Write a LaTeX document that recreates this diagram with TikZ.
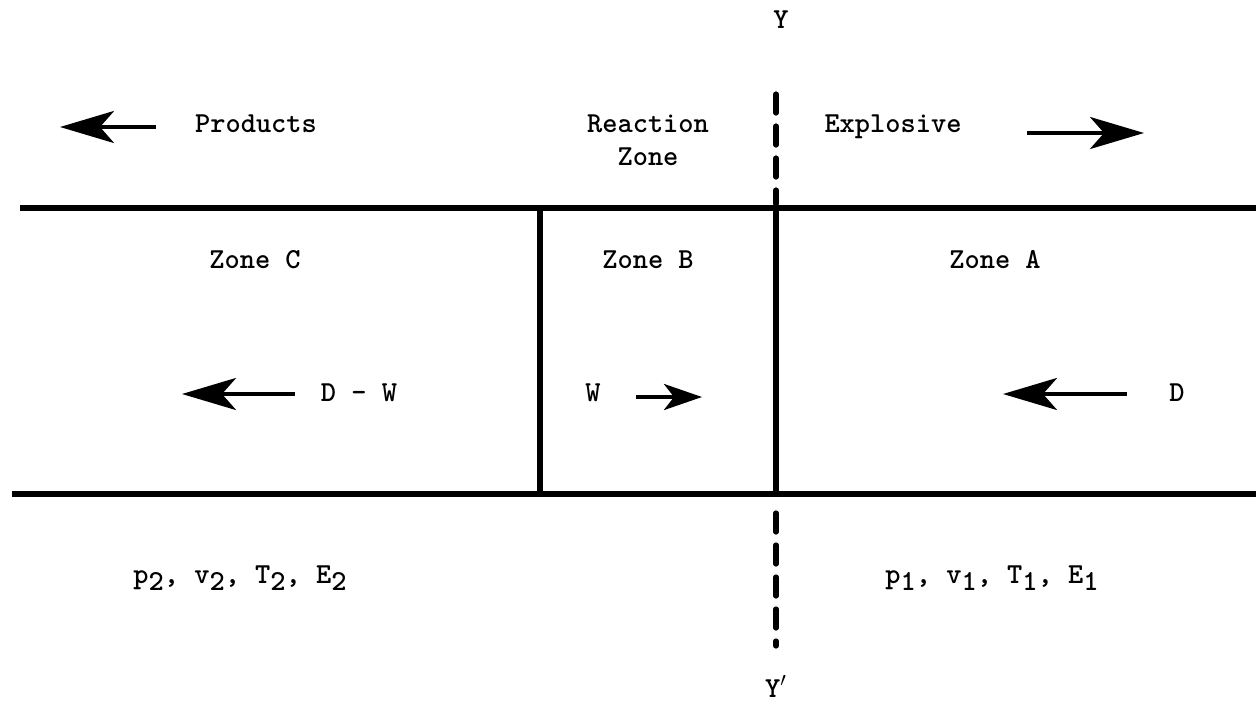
\documentclass[tikz,border=0pt]{standalone}
\usepackage{fontspec}
\usetikzlibrary{arrows.meta}
\newcommand\tw{\fontsize{14.5}{17}\selectfont\ttfamily\bfseries}
\newcommand\sbs[1]{\raisebox{-0.6ex}{#1}}
\begin{document}
\begin{tikzpicture}[x=0.5pt,y=-0.5pt,
  heavy/.style={line width=2.6pt},
  bigarrow/.style={line width=2pt, -{Stealth[length=27pt,width=16pt,inset=7pt]}},
  smallarrow/.style={line width=2pt, -{Stealth[length=19pt,width=13pt,inset=5pt]}},
  dashline/.style={line width=2.6pt, line cap=round, dash pattern=on 9.5pt off 6.5pt},
  lab/.style={font=\tw, inner sep=0pt, anchor=base}]
\useasboundingbox (0,0) rectangle (1256,717);

% frame lines
\coordinate (tl) at (20,208);
\coordinate (tr) at (1256,208);
\coordinate (bl) at (12,494);
\coordinate (br) at (1256,494);
\coordinate (bt) at (540,208);
\coordinate (bb) at (540,494);
\coordinate (yt) at (776,208);
\coordinate (yb) at (776,494);
\draw[heavy] (tl) -- (tr);
\draw[heavy] (bl) -- (br);
\draw[heavy] (bt) -- (bb);
\draw[heavy] (yt) -- (yb);

% dashed Y-Y'
\coordinate (d1s) at (776,94);
\coordinate (d1e) at (776,204);
\coordinate (d2s) at (776,513);
\coordinate (d2e) at (776,646);
\draw[dashline] (d1s) -- (d1e);
\draw[dashline] (d2s) -- (d2e);

\node[lab] (Y) at (781,29) {Y};
\node[lab] (Yp) at (776,697) {Y$'$};

% top labels
\node[lab] (prod) at (256,133) {Products};
\node[lab] (reac) at (648,133) {Reaction};
\node[lab] (zone) at (648,165) {Zone};
\node[lab] (expl) at (893,133) {Explosive};

\coordinate (pa1) at (156,127);
\coordinate (pa2) at (60,127);
\draw[bigarrow] (pa1) -- (pa2);
\coordinate (ea1) at (1027,133);
\coordinate (ea2) at (1144,133);
\draw[bigarrow] (ea1) -- (ea2);

% zone labels
\node[lab] (zc) at (255,268) {Zone C};
\node[lab] (zb) at (648,268) {Zone B};
\node[lab] (za) at (995,268) {Zone A};

% velocities
\node[lab] (dw) at (359,401) {D - W};
\coordinate (dwa1) at (295,394);
\coordinate (dwa2) at (182,394);
\draw[bigarrow] (dwa1) -- (dwa2);

\node[lab] (w) at (593,401) {W};
\coordinate (wa1) at (636,397);
\coordinate (wa2) at (702,397);
\draw[smallarrow] (wa1) -- (wa2);

\node[lab] (d) at (1177,401) {D};
\coordinate (da1) at (1127,394);
\coordinate (da2) at (1003,394);
\draw[bigarrow] (da1) -- (da2);

% state variables
\node[lab] (s2) at (240,583) {p\sbs{2}, v\sbs{2}, T\sbs{2}, E\sbs{2}};
\node[lab] (s1) at (992,583) {p\sbs{1}, v\sbs{1}, T\sbs{1}, E\sbs{1}};
\end{tikzpicture}
\end{document}
